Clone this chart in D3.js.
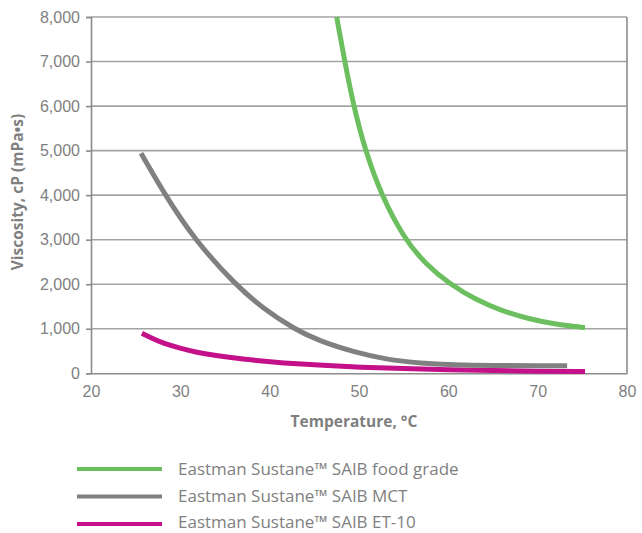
<!DOCTYPE html>
<html>
<head>
<meta charset="utf-8">
<script src="https://cdn.jsdelivr.net/npm/d3@7"></script>
<style>
  html, body { margin: 0; padding: 0; background: #fff; }
  svg { display: block; font-family: "Open Sans", "Noto Sans", sans-serif; }
</style>
</head>
<body>
<svg id="chart" width="642" height="533"></svg>
<script>
// ---- data ----
const xTicks = [20, 30, 40, 50, 60, 70, 80];
const yTicks = [0, 1000, 2000, 3000, 4000, 5000, 6000, 7000, 8000];

const foodTemp = [47.5, 48.4, 49.4, 50.7, 52.5, 55, 57.5, 60.2, 63, 66, 69, 72, 75.3];
const foodVisc = [8000, 7000, 6000, 5000, 4000, 3040, 2440, 2000, 1660, 1400, 1220, 1100, 1025];

const mctTemp = [25.6, 28.3, 31.6, 36.1, 39.3, 42.7, 45.6, 49.4, 53, 57, 60.5, 65, 70, 73.3];
const mctVisc = [4940, 4000, 3000, 2000, 1450, 1000, 720, 480, 310, 225, 190, 175, 170, 170];

const et10Temp = [25.7, 27, 28.1, 30, 31.8, 34, 37.4, 40, 43, 46.5, 50, 55, 60, 65, 70, 75.3];
const et10Visc = [900, 770, 675, 560, 470, 395, 310, 260, 212, 172, 138, 105, 80, 62, 48, 38];

const seriesNames = ["Eastman Sustane™ SAIB food grade", "Eastman Sustane™ SAIB MCT", "Eastman Sustane™ SAIB ET-10"];
const seriesColors = ["#6cbf5f", "#808080", "#c4118a"];

const series = [
  { name: seriesNames[0], color: seriesColors[0], t: foodTemp, v: foodVisc },
  { name: seriesNames[1], color: seriesColors[1], t: mctTemp, v: mctVisc },
  { name: seriesNames[2], color: seriesColors[2], t: et10Temp, v: et10Visc }
];

// ---- layout ----
const svg = d3.select("#chart");
const plotL = 91, plotR = 627, plotT = 17, plotB = 373.3;

const x = d3.scaleLinear().domain([20, 80]).range([plotL, plotR]);
const y = d3.scaleLinear().domain([0, 8000]).range([plotB, plotT]);

const gridColor = "#a3a3a3";
const axisColor = "#8c8c8c";
const textColor = "#7f7f7f";

// gridlines
svg.append("g")
  .selectAll("line")
  .data(yTicks.filter(d => d > 0))
  .join("line")
  .attr("x1", plotL).attr("x2", plotR)
  .attr("y1", d => y(d)).attr("y2", d => y(d))
  .attr("stroke", gridColor).attr("stroke-width", 1.6);

// right border
svg.append("line")
  .attr("x1", plotR).attr("x2", plotR)
  .attr("y1", plotT).attr("y2", plotB)
  .attr("stroke", axisColor).attr("stroke-width", 1.6);

// y axis
const yAxis = svg.append("g")
  .attr("transform", `translate(${plotL},0)`)
  .call(d3.axisLeft(y).tickValues(yTicks).tickSize(5).tickPadding(6).tickFormat(d3.format(",")));
yAxis.select(".domain").attr("stroke", axisColor).attr("stroke-width", 1.6);
yAxis.selectAll(".tick line").attr("stroke", axisColor).attr("stroke-width", 1.6);
yAxis.selectAll(".tick text").attr("fill", textColor).style("font-size", "16px");

// x axis
const xAxis = svg.append("g")
  .attr("transform", `translate(0,${plotB})`)
  .call(d3.axisBottom(x).tickValues(xTicks).tickSize(0).tickPadding(12));
xAxis.select(".domain").attr("stroke", axisColor).attr("stroke-width", 1.6);
xAxis.selectAll(".tick text").attr("fill", textColor).style("font-size", "16px");

// axis titles
svg.append("text")
  .attr("x", 354).attr("y", 427)
  .attr("text-anchor", "middle")
  .attr("fill", textColor)
  .style("font-size", "15.5px").style("font-weight", "bold")
  .text("Temperature, °C");

svg.append("text")
  .attr("transform", "translate(23,192) rotate(-90)")
  .attr("text-anchor", "middle")
  .attr("fill", textColor)
  .style("font-size", "15.5px").style("font-weight", "bold")
  .text("Viscosity, cP (mPa•s)");

// lines
const line = d3.line()
  .x(d => x(d[0]))
  .y(d => y(d[1]))
  .curve(d3.curveBasis);

svg.append("g")
  .selectAll("path")
  .data(series.slice().reverse())
  .join("path")
  .attr("d", s => line(s.t.map((t, i) => [t, s.v[i]])))
  .attr("fill", "none")
  .attr("stroke", s => s.color)
  .attr("stroke-width", 5);

// legend
const legend = svg.append("g");
const legendY = [469, 496.5, 524];
const legendBase = [475, 501.5, 528];
series.forEach((s, i) => {
  legend.append("line")
    .attr("x1", 77).attr("x2", 162)
    .attr("y1", legendY[i]).attr("y2", legendY[i])
    .attr("stroke", s.color).attr("stroke-width", 4);
  legend.append("text")
    .attr("x", 178).attr("y", legendBase[i])
    .attr("fill", textColor)
    .style("font-size", "17px")
    .text(s.name);
});
</script>
</body>
</html>
